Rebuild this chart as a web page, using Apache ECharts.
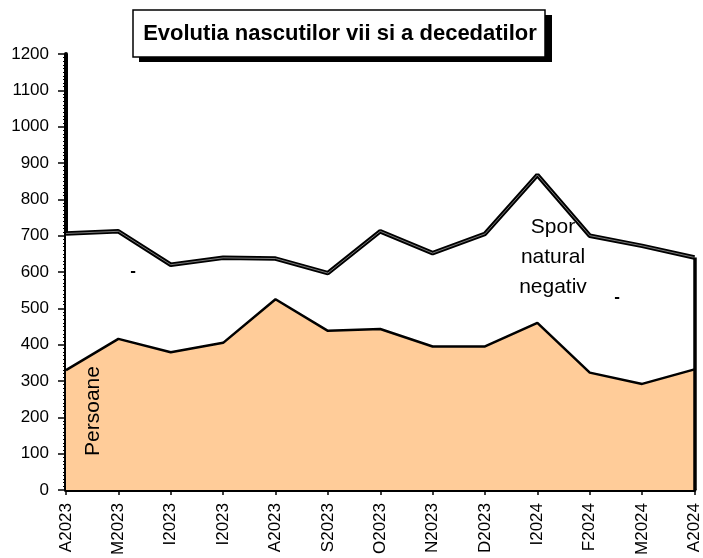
<!DOCTYPE html>
<html>
<head>
<meta charset="UTF-8">
<script src="https://cdn.jsdelivr.net/npm/echarts@6/dist/echarts.min.js"></script>
<title>Evolutia nascutilor vii si a decedatilor</title>
<style>
  html, body { margin: 0; padding: 0; background: #fff; }
  #chart { width: 703px; height: 558px; }
</style>
</head>
<body>
<div id="chart"></div>
<script type="text/javascript">
// luni (categorii)
var luni = ['A2023', 'M2023', 'I2023', 'I2023', 'A2023', 'S2023', 'O2023', 'N2023', 'D2023', 'I2024', 'F2024', 'M2024', 'A2024'];
// nascuti vii
var nascuti = [330, 416, 379, 405, 525, 438, 443, 395, 395, 460, 323, 292, 332];
// decedati
var decedati = [706, 712, 620, 639, 637, 597, 712, 652, 705, 867, 700, 672, 640];
var yTicks = [0, 1200, 100];

var myChart = echarts.init(document.getElementById('chart'));
var font = '"Liberation Sans", Arial, sans-serif';

myChart.setOption({
    animation: false,
    grid: { left: 66, right: 4, top: 54, bottom: 68 },
    xAxis: {
        type: 'category',
        data: luni,
        boundaryGap: false,
        axisLine: { lineStyle: { color: '#000', width: 4 } },
        axisTick: { show: true, length: 5, lineStyle: { color: '#000', width: 1.5 } },
        axisLabel: {
            rotate: 90, margin: 13, color: '#000',
            fontFamily: font, fontSize: 17, interval: 0
        },
        splitLine: { show: false }
    },
    yAxis: {
        type: 'value',
        min: yTicks[0], max: yTicks[1], interval: yTicks[2],
        axisLine: { show: true, lineStyle: { color: '#000', width: 4 } },
        axisTick: { show: true, length: 8, lineStyle: { color: '#000', width: 1.5 } },
        minorTick: { show: true, splitNumber: 10, length: 3, lineStyle: { color: '#000', width: 1 } },
        axisLabel: {
            margin: 17, color: '#000', fontFamily: font, fontSize: 17,
            formatter: function (v) { return String(v); }
        },
        splitLine: { show: false }
    },
    series: [
        {
            name: 'Decedati',
            type: 'line',
            data: decedati,
            symbol: 'none',
            z: 2,
            lineStyle: { color: '#000', width: 4.5 },
            areaStyle: { color: '#fff', opacity: 1 },
            markLine: {
                silent: true, symbol: 'none', label: { show: false },
                lineStyle: { color: '#000', width: 3.5, type: 'solid' },
                data: [[{ coord: [luni.length - 1, 0] }, { coord: [luni.length - 1, decedati[decedati.length - 1]] }]]
            }
        },
        {
            // linia interioara subtire (efect de linie dubla)
            name: 'Decedati2',
            type: 'line',
            data: decedati,
            symbol: 'none',
            z: 3,
            lineStyle: { color: '#9a9a9a', width: 0.8 }
        },
        {
            name: 'Nascuti',
            type: 'line',
            data: nascuti,
            symbol: 'none',
            z: 4,
            lineStyle: { color: '#000', width: 2.5 },
            areaStyle: { color: '#FFCC99', opacity: 1 }
        }
    ],
    graphic: [
        { type: 'rect', shape: { x: 139, y: 15, width: 413, height: 47 }, style: { fill: '#000' }, z: 10 },
        { type: 'rect', shape: { x: 133, y: 10, width: 412, height: 47 }, style: { fill: '#fff', stroke: '#000', lineWidth: 1.5 }, z: 11 },
        { type: 'text', x: 340, y: 34, z: 12,
          style: { text: 'Evolutia nascutilor vii si a decedatilor', font: 'bold 22px ' + font,
                   fill: '#000', align: 'center', verticalAlign: 'middle' } },
        { type: 'text', x: 93, y: 411, rotation: Math.PI / 2, z: 12,
          style: { text: 'Persoane', font: '21px ' + font,
                   fill: '#000', align: 'center', verticalAlign: 'middle' } },
        { type: 'text', x: 553, y: 257, z: 12,
          style: { text: 'Spor\nnatural\nnegativ', font: '21px ' + font, lineHeight: 30,
                   fill: '#000', align: 'center', verticalAlign: 'middle' } },
        { type: 'text', x: 133, y: 271, z: 12,
          style: { text: '-', font: 'bold 17px ' + font, fill: '#000', align: 'center', verticalAlign: 'middle' } },
        { type: 'text', x: 617, y: 297, z: 12,
          style: { text: '-', font: 'bold 17px ' + font, fill: '#000', align: 'center', verticalAlign: 'middle' } }
    ]
});
</script>
</body>
</html>
